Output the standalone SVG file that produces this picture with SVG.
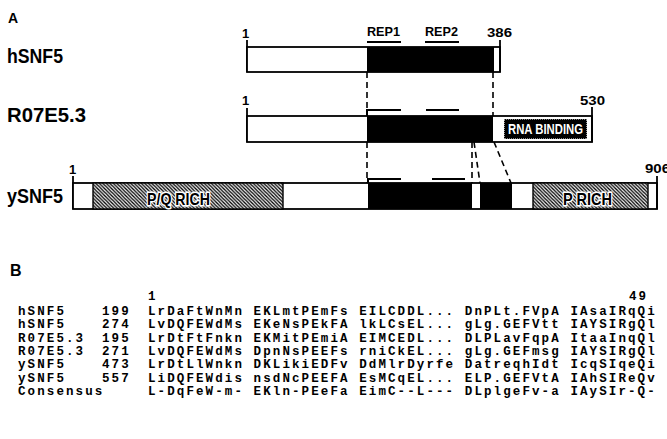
<svg xmlns="http://www.w3.org/2000/svg" width="667" height="439" viewBox="0 0 667 439">
<style>
.lbl{font-family:"Liberation Sans",Arial,sans-serif;font-weight:bold;fill:#000}
.num{font-family:"Liberation Sans",Arial,sans-serif;font-weight:bold;font-size:13px;fill:#000}
.box{fill:#fff;stroke:#000;stroke-width:1.8}
.blk{fill:#000}
.tick{stroke:#000;stroke-width:1.8;fill:none}
.dash{stroke:#000;stroke-width:1.6;stroke-dasharray:6 4;fill:none}
.rep{stroke:#000;stroke-width:2;fill:none}
.hatch{fill:url(#hatch);stroke:#000;stroke-width:1.4}
.htxt{font-family:"Liberation Sans",Arial,sans-serif;font-weight:bold;font-size:17px;fill:#000;stroke:#fff;stroke-width:3;paint-order:stroke}
.mono{font-family:"Liberation Mono","Courier New",monospace;font-weight:bold;font-size:12.5px;letter-spacing:2.1px;fill:#000}
</style>
<defs>
<pattern id="hatch" width="3.5" height="3.5" patternUnits="userSpaceOnUse">
<rect width="3.5" height="3.5" fill="#fff"/>
<path d="M-1,-1 L4.5,4.5 M-1,2.5 L1,4.5 M2.5,-1 L4.5,1" stroke="#000" stroke-width="1.3"/>
</pattern>
</defs>
<rect width="667" height="439" fill="#fff"/>

<text class="lbl" x="8" y="23" font-size="14">A</text>

<g id="connectors">
<path class="dash" d="M367,72 V183"/>
<path class="dash" d="M493,72 V116"/>
<path class="dash" d="M472,142 L472,183"/>
<path class="dash" d="M474,142 L480,183"/>
<path class="dash" d="M494,142 L511,183"/>
</g>

<g id="hSNF5">
<text class="lbl" x="7" y="63" font-size="20" textLength="56" lengthAdjust="spacingAndGlyphs">hSNF5</text>
<text class="num" x="242" y="38">1</text>
<path class="tick" d="M247,40 V72"/>
<rect class="box" x="247" y="47" width="253" height="25"/>
<rect class="blk" x="367" y="47" width="127" height="25"/>
<path class="tick" d="M500,40 V72"/>
<text class="num" x="487" y="37" textLength="25" lengthAdjust="spacingAndGlyphs">386</text>
<text class="num" x="367" y="36" textLength="33" lengthAdjust="spacingAndGlyphs">REP1</text>
<text class="num" x="425" y="36" textLength="33" lengthAdjust="spacingAndGlyphs">REP2</text>
<path class="rep" d="M367,42 H401 M425,42 H459"/>
</g>

<g id="R07E5.3">
<text class="lbl" x="7" y="122" font-size="20" textLength="79" lengthAdjust="spacingAndGlyphs">R07E5.3</text>
<text class="num" x="242" y="105">1</text>
<path class="tick" d="M247,108 V142"/>
<rect class="box" x="247" y="116" width="345" height="26"/>
<rect class="blk" x="367" y="116" width="126" height="26"/>
<rect x="504" y="119" width="83" height="20" fill="#000" stroke="#fff" stroke-width="1.2" stroke-dasharray="1 1"/>
<text x="545.5" y="134" text-anchor="middle" font-family="Liberation Sans,Arial,sans-serif" font-weight="bold" font-size="14" fill="#fff" textLength="75" lengthAdjust="spacingAndGlyphs">RNA BINDING</text>
<path class="tick" d="M592,107 V142"/>
<text class="num" x="580" y="105" textLength="25" lengthAdjust="spacingAndGlyphs">530</text>
<path class="rep" d="M367,116 V110 H401 M426,110 H459"/>
</g>

<g id="ySNF5">
<text class="lbl" x="7" y="203" font-size="20" textLength="56" lengthAdjust="spacingAndGlyphs">ySNF5</text>
<text class="num" x="69" y="174">1</text>
<path class="tick" d="M73,176 V209"/>
<rect class="box" x="73" y="183" width="584" height="26"/>
<rect class="hatch" x="93" y="183" width="190" height="26"/>
<text class="htxt" x="147" y="205" textLength="63" lengthAdjust="spacingAndGlyphs">P/Q RICH</text>
<rect class="blk" x="368" y="183" width="104" height="26"/>
<rect class="blk" x="480" y="183" width="32" height="26"/>
<rect class="hatch" x="533" y="183" width="115" height="26"/>
<text class="htxt" x="563" y="205" textLength="49" lengthAdjust="spacingAndGlyphs">P RICH</text>
<path class="tick" d="M657,176 V209"/>
<text class="num" x="645" y="173" textLength="25" lengthAdjust="spacingAndGlyphs">906</text>
<path class="rep" d="M368,183 V179 H401 M432,179 H465"/>
</g>

<text class="lbl" x="10" y="276" font-size="16">B</text>

<g id="alignment" class="mono">
<text x="148" y="300">1</text>
<text x="629" y="300">49</text>
<text y="315"><tspan x="18">hSNF5</tspan><tspan x="102">199</tspan><tspan x="148">LrDaFtWnMn</tspan><tspan x="253.6">EKLmtPEmFs</tspan><tspan x="359.2">EILCDDL...</tspan><tspan x="464.8">DnPLt.FVpA</tspan><tspan x="570.4">IAsaIRqQi</tspan></text>
<text y="328.3"><tspan x="18">hSNF5</tspan><tspan x="102">274</tspan><tspan x="148">LvDQFEWdMs</tspan><tspan x="253.6">EKeNsPEkFA</tspan><tspan x="359.2">lkLCsEL...</tspan><tspan x="464.8">gLg.GEFVtt</tspan><tspan x="570.4">IAYSIRgQl</tspan></text>
<text y="341.7"><tspan x="18">R07E5.3</tspan><tspan x="102">195</tspan><tspan x="148">LrDtFtFnkn</tspan><tspan x="253.6">EKMitPEmiA</tspan><tspan x="359.2">EIMCEDL...</tspan><tspan x="464.8">DLPLavFqpA</tspan><tspan x="570.4">ItaaInqQl</tspan></text>
<text y="355"><tspan x="18">R07E5.3</tspan><tspan x="102">271</tspan><tspan x="148">LvDQFEWdMs</tspan><tspan x="253.6">DpnNsPEEFs</tspan><tspan x="359.2">rniCkEL...</tspan><tspan x="464.8">gLg.GEFmsg</tspan><tspan x="570.4">IAYSIRgQl</tspan></text>
<text y="368.3"><tspan x="18">ySNF5</tspan><tspan x="102">473</tspan><tspan x="148">LrDtLlWnkn</tspan><tspan x="253.6">DKLikiEDFv</tspan><tspan x="359.2">DdMlrDyrfe</tspan><tspan x="464.8">DatreqhIdt</tspan><tspan x="570.4">IcqSIqeQi</tspan></text>
<text y="381.7"><tspan x="18">ySNF5</tspan><tspan x="102">557</tspan><tspan x="148">LiDQFEWdis</tspan><tspan x="253.6">nsdNcPEEFA</tspan><tspan x="359.2">EsMCqEL...</tspan><tspan x="464.8">ELP.GEFVtA</tspan><tspan x="570.4">IAhSIReQv</tspan></text>
<text y="395"><tspan x="18">Consensus</tspan><tspan x="148">L-DqFeW-m-</tspan><tspan x="253.6">EKln-PEeFa</tspan><tspan x="359.2">EimC--L---</tspan><tspan x="464.8">DLplgeFv-a</tspan><tspan x="570.4">IAySIr-Q-</tspan></text>
</g>
</svg>
